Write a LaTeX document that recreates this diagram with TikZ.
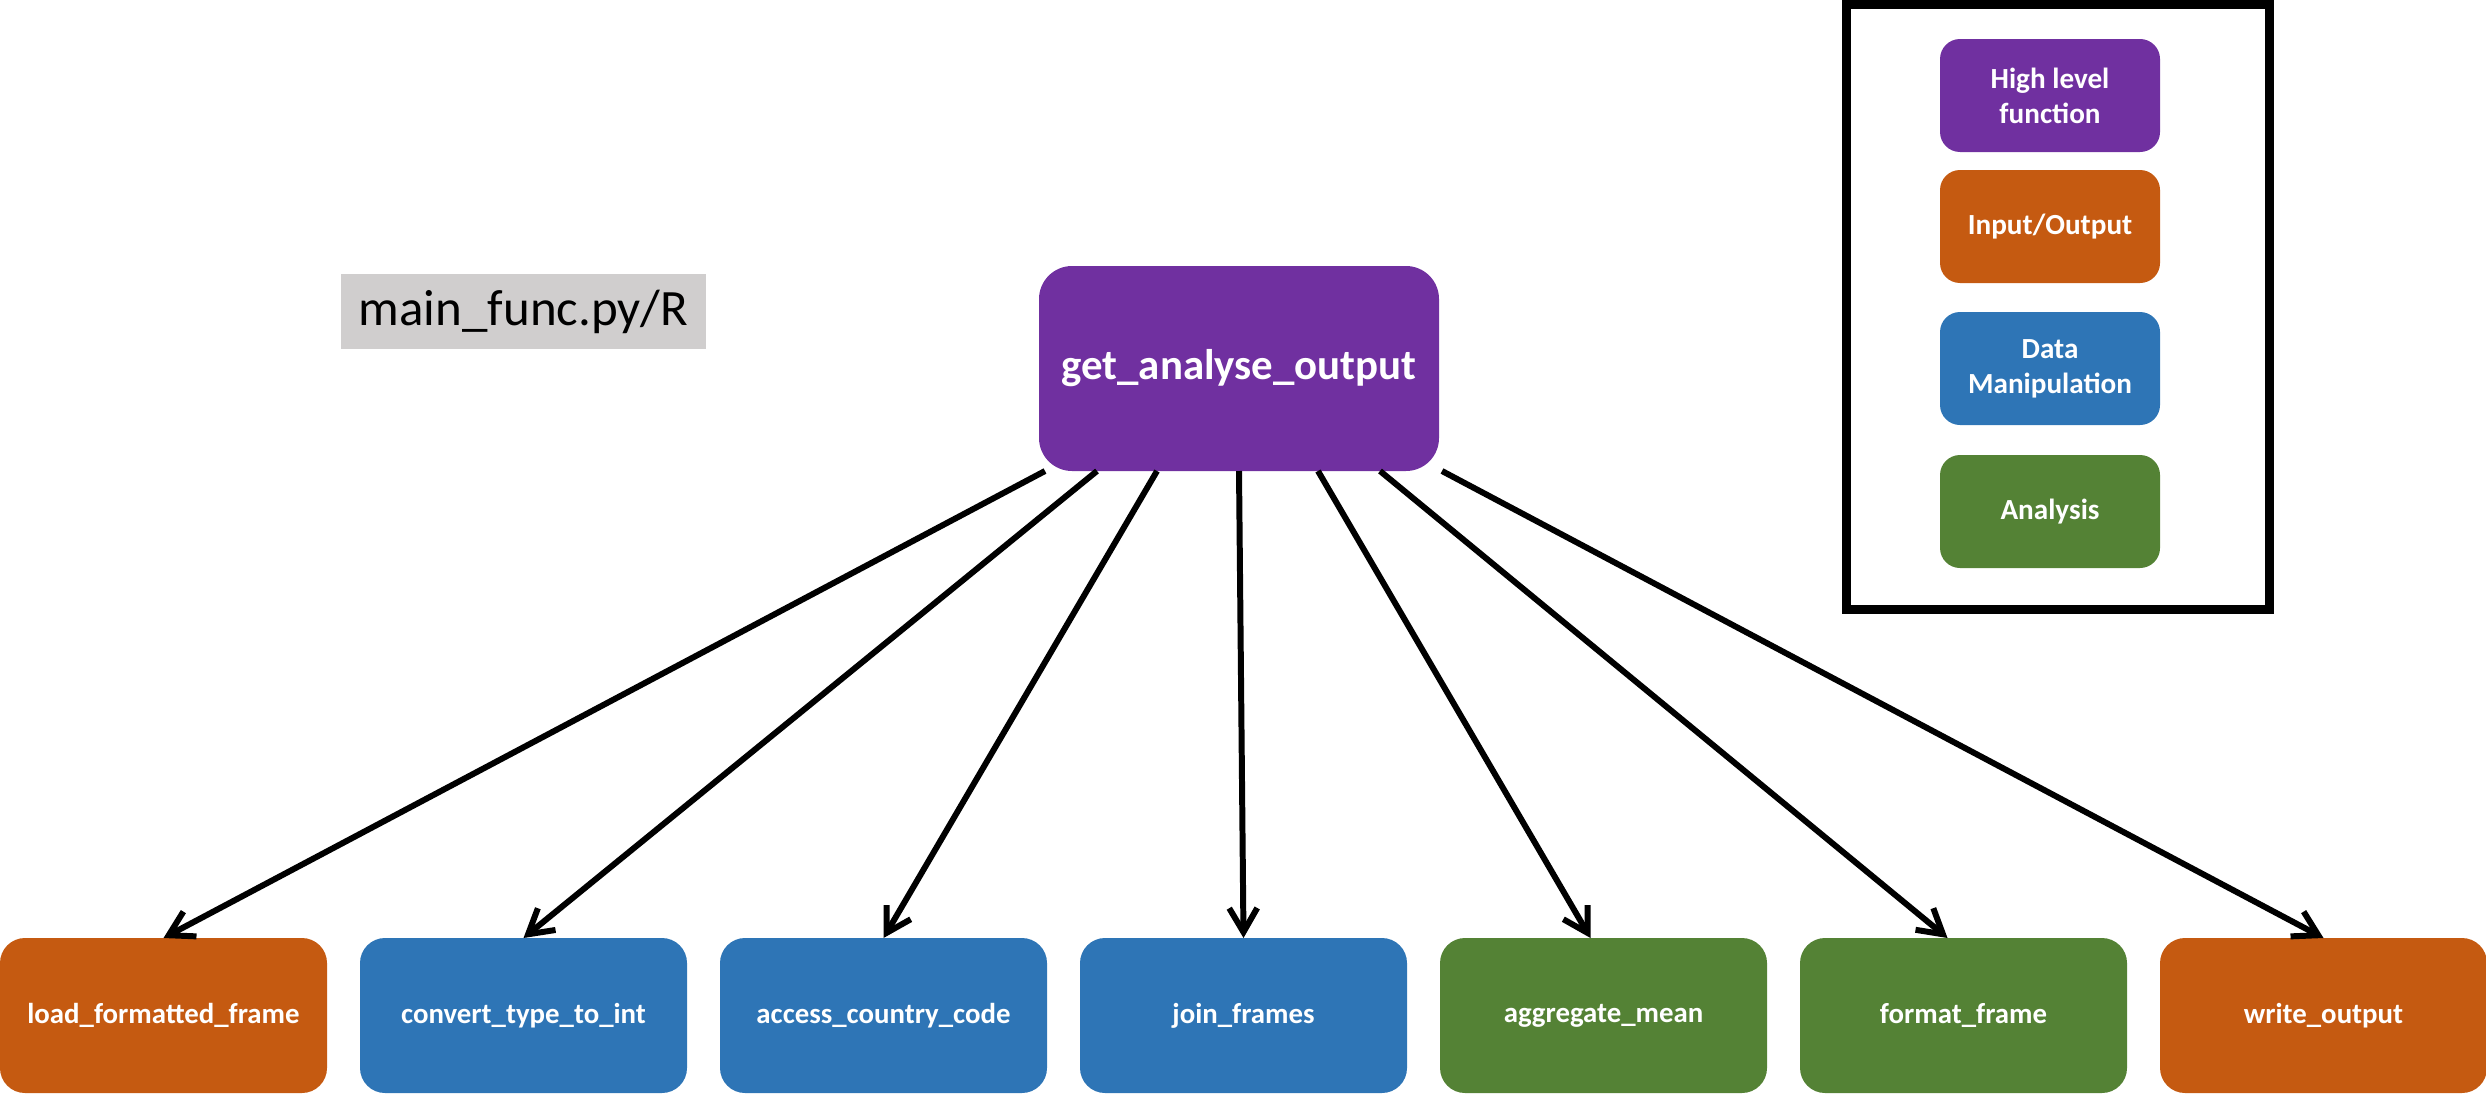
\documentclass[tikz,border=0pt]{standalone}
\usepackage{fontspec}
\setmainfont{Carlito}
\usetikzlibrary{arrows.meta, positioning}

\definecolor{hlpurple}{HTML}{7030A0}
\definecolor{ioorange}{HTML}{C55A11}
\definecolor{dmblue}{HTML}{2E75B6}
\definecolor{angreen}{HTML}{548235}
\definecolor{labelgray}{HTML}{D0CECE}

\begin{document}
\begin{tikzpicture}[
  box/.style={rectangle, rounded corners=0.25cm, minimum width=3.27cm, minimum height=1.55cm, align=center, text=white, inner sep=1pt, outer sep=0pt, font=\fontsize{8.2}{10}\selectfont\bfseries},
  legbox/.style={box, rounded corners=0.2cm, minimum width=2.2cm, minimum height=1.13cm, font=\fontsize{8.3}{10}\selectfont\bfseries},
  hl/.style={fill=hlpurple},
  io/.style={fill=ioorange},
  dm/.style={fill=dmblue},
  an/.style={fill=angreen},
  arr/.style={-{Straight Barb[length=2.4mm, width=2.8mm]}, line width=1.7pt},
  node distance=0.33cm
]
\useasboundingbox (0,0) rectangle (24.86,-10.94);

% file label
\node[fill=labelgray, minimum width=3.65cm, minimum height=0.75cm, inner sep=0pt, font=\fontsize{14.5}{16}\selectfont] (file) at (5.235,-3.115) {main\_func.py/R};

% top level call
\node[box, hl, rounded corners=0.33cm, minimum width=4cm, minimum height=2.05cm, font=\fontsize{12.2}{14}\selectfont\bfseries] (main) at (12.39,-3.685) {get\_analyse\_output};

% called functions
\node[box, io] (load) at (1.635,-10.155) {load\_formatted\_frame};
\node[box, dm, right=of load] (convert) {convert\_type\_to\_int};
\node[box, dm, right=of convert] (country) {access\_country\_code};
\node[box, dm, right=of country] (join) {join\_frames};
\node[box, an, right=of join] (aggregate) {aggregate\_mean};
\node[box, an, right=of aggregate] (format) {format\_frame};
\node[box, io, right=of format] (write) {write\_output};

\draw[arr] ([xshift=-1.94cm]main.south) -- (load.north);
\draw[arr] ([xshift=-1.42cm]main.south) -- (convert.north);
\draw[arr] ([xshift=-0.82cm]main.south) -- (country.north);
\draw[arr] (main.south) -- (join.north);
\draw[arr] ([xshift=0.79cm]main.south) -- ([xshift=-0.13cm]aggregate.north);
\draw[arr] ([xshift=1.41cm]main.south) -- ([xshift=-0.16cm]format.north);
\draw[arr] ([xshift=2.03cm]main.south) -- (write.north);

% legend
\node[draw, line width=0.09cm, minimum width=4.23cm, minimum height=6.05cm, inner sep=0pt] (legend) at (20.58,-3.07) {};
\node[legbox, hl] (kindhl) at (20.5,-0.955) {High level\\function};
\node[legbox, io, below=0.18cm of kindhl] (kindio) {Input/Output};
\node[legbox, dm, below=0.29cm of kindio] (kinddm) {Data\\Manipulation};
\node[legbox, an, below=0.30cm of kinddm] (kindan) {Analysis};
\end{tikzpicture}
\end{document}
